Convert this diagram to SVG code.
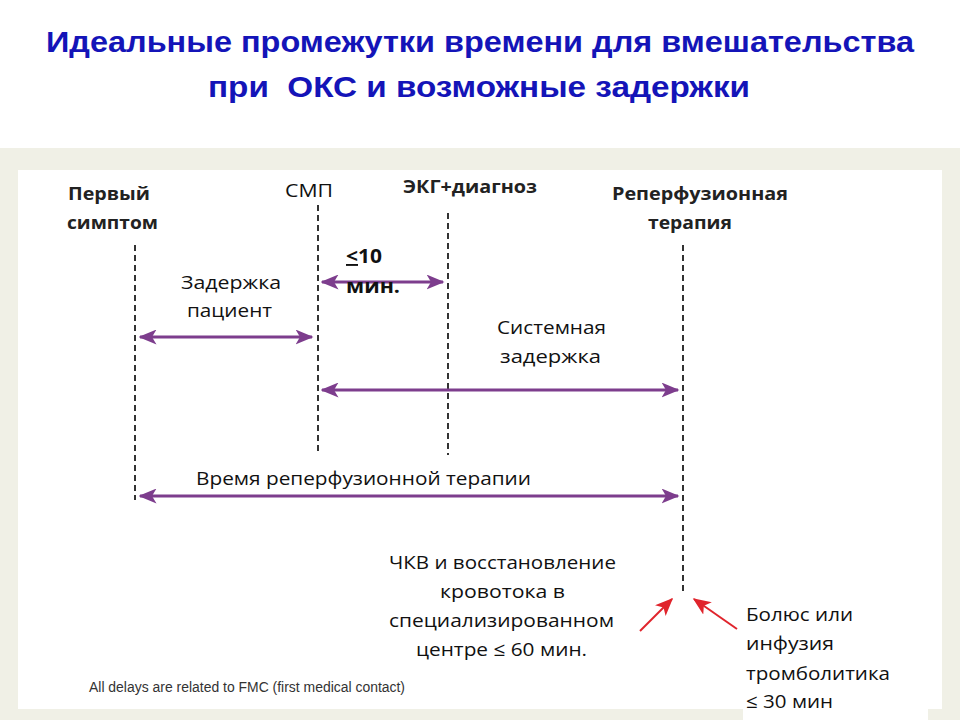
<svg xmlns="http://www.w3.org/2000/svg" width="960" height="720" viewBox="0 0 960 720">
<defs>
<style>
.title{font-family:"Liberation Sans",Arial,sans-serif;font-weight:bold;font-size:30px;fill:#1414b8;text-anchor:middle}
.hd{font-family:"Open Sans",Arial,sans-serif;font-weight:bold;font-size:18px;fill:#222}
.tx{font-family:"Open Sans",Arial,sans-serif;font-size:19px;fill:#111}
.bt{font-family:"Open Sans",Arial,sans-serif;font-weight:bold;font-size:19px;fill:#111}
.note{font-family:"Liberation Sans",Arial,sans-serif;font-size:14px;fill:#333}
.dash{stroke:#333;stroke-width:2;stroke-dasharray:6,4;fill:none}
.arr{stroke:#7d3d8d;stroke-width:3;fill:none;marker-start:url(#ps);marker-end:url(#pe)}
.red{stroke:#e0242c;stroke-width:2;fill:none;marker-end:url(#re)}
</style>
<marker id="pe" viewBox="0 0 12 10" refX="11" refY="5" markerWidth="6" markerHeight="5" orient="auto" markerUnits="strokeWidth">
<path d="M0,0 L12,5 L0,10 L3,5 z" fill="#7d3d8d"/>
</marker>
<marker id="ps" viewBox="0 0 12 10" refX="1" refY="5" markerWidth="6" markerHeight="5" orient="auto" markerUnits="strokeWidth">
<path d="M12,0 L0,5 L12,10 L9,5 z" fill="#7d3d8d"/>
</marker>
<marker id="re" viewBox="0 0 12 10" refX="11" refY="5" markerWidth="9" markerHeight="7.5" orient="auto" markerUnits="strokeWidth">
<path d="M0,0 L12,5 L0,10 L3,5 z" fill="#e0242c"/>
</marker>
</defs>
<rect x="0" y="0" width="960" height="720" fill="#ffffff"/>
<rect x="0" y="148" width="960" height="572" fill="#f0f0e6"/>
<rect x="18" y="170" width="924" height="539" fill="#ffffff"/>
<rect x="743" y="700" width="185" height="20" fill="#ffffff"/>

<g id="title">
<text class="title" x="480" y="52" textLength="868" lengthAdjust="spacingAndGlyphs">Идеальные промежутки времени для вмешательства</text>
<text class="title" x="479" y="97" textLength="542" lengthAdjust="spacingAndGlyphs">при&#160; ОКС и возможные задержки</text>
</g>

<g id="connectors">
<line class="dash" x1="135" y1="245" x2="135" y2="500"/>
<line class="dash" x1="318" y1="205" x2="318" y2="455"/>
<line class="dash" x1="448" y1="213" x2="448" y2="455"/>
<line class="dash" x1="683" y1="245" x2="683" y2="592"/>
<line class="arr" x1="140" y1="337" x2="312" y2="337"/>
<line class="arr" x1="322" y1="282" x2="443" y2="282"/>
<line class="arr" x1="322" y1="390" x2="678" y2="390"/>
<line class="arr" x1="140" y1="496" x2="678" y2="496"/>
<line class="red" x1="640" y1="631" x2="672" y2="599"/>
<line class="red" x1="737" y1="629" x2="694" y2="599"/>
</g>

<g id="first-symptom">
<text class="hd" x="68" y="200" textLength="82" lengthAdjust="spacingAndGlyphs">Первый</text>
<text class="hd" x="67" y="229" textLength="91" lengthAdjust="spacingAndGlyphs">симптом</text>
</g>
<g id="smp">
<text class="tx" x="285" y="197" textLength="48" lengthAdjust="spacingAndGlyphs">СМП</text>
</g>
<g id="ecg">
<text class="hd" x="403" y="193" style="font-size:17px" textLength="134" lengthAdjust="spacingAndGlyphs">ЭКГ+диагноз</text>
</g>
<g id="reperfusion">
<text class="hd" x="612" y="200" textLength="176" lengthAdjust="spacingAndGlyphs">Реперфузионная</text>
<text class="hd" x="648" y="229" textLength="84" lengthAdjust="spacingAndGlyphs">терапия</text>
</g>
<g id="patient-delay">
<text class="tx" x="181" y="289" textLength="100" lengthAdjust="spacingAndGlyphs">Задержка</text>
<text class="tx" x="187" y="317" textLength="85" lengthAdjust="spacingAndGlyphs">пациент</text>
</g>
<g id="ten-min">
<text class="bt" x="346" y="263" textLength="36" lengthAdjust="spacingAndGlyphs"><tspan text-decoration="underline">&lt;</tspan>10</text>
<text class="bt" x="346" y="293" textLength="54" lengthAdjust="spacingAndGlyphs">мин.</text>
</g>
<g id="system-delay">
<text class="tx" x="497" y="334" textLength="109" lengthAdjust="spacingAndGlyphs">Системная</text>
<text class="tx" x="500" y="363" textLength="101" lengthAdjust="spacingAndGlyphs">задержка</text>
</g>
<g id="reperfusion-time">
<text class="tx" x="196" y="485" textLength="335" lengthAdjust="spacingAndGlyphs">Время реперфузионной терапии</text>
</g>
<g id="pci">
<text class="tx" x="389" y="569" textLength="227" lengthAdjust="spacingAndGlyphs">ЧКВ и восстановление</text>
<text class="tx" x="440" y="598" textLength="125" lengthAdjust="spacingAndGlyphs">кровотока в</text>
<text class="tx" x="389" y="627" textLength="225" lengthAdjust="spacingAndGlyphs">специализированном</text>
<text class="tx" x="416" y="656" textLength="171" lengthAdjust="spacingAndGlyphs">центре ≤ 60 мин.</text>
</g>
<g id="thrombolysis">
<text class="tx" x="746" y="621" textLength="107" lengthAdjust="spacingAndGlyphs">Болюс или</text>
<text class="tx" x="746" y="650" textLength="88" lengthAdjust="spacingAndGlyphs">инфузия</text>
<text class="tx" x="746" y="680" textLength="144" lengthAdjust="spacingAndGlyphs">тромболитика</text>
<text class="tx" x="746" y="708" textLength="87" lengthAdjust="spacingAndGlyphs">≤ 30 мин</text>
</g>
<g id="footnote">
<text class="note" x="89" y="692" textLength="316" lengthAdjust="spacingAndGlyphs">All delays are related to FMC (first medical contact)</text>
</g>
</svg>
